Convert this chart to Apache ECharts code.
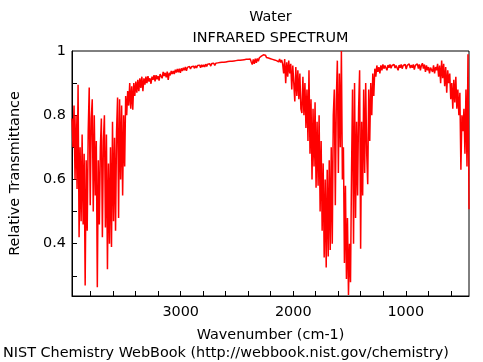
<!DOCTYPE html>
<html><head><meta charset="utf-8">
<script src="https://cdn.jsdelivr.net/npm/echarts@6/dist/echarts.min.js"></script>
<style>html,body{margin:0;padding:0;background:#fff}#c{width:483px;height:362px}</style>
</head><body><div id="c"></div>
<script>
const titleText = 'Water';
const subtitleText = 'INFRARED SPECTRUM';
const xAxisName = 'Wavenumber (cm-1)';
const yAxisName = 'Relative Transmittance';
const footerText = 'NIST Chemistry WebBook (http://webbook.nist.gov/chemistry)';

const wavenumbers = [
3966,3957,3948,3939,3930,3921,3912,3903,3894,3885,
3876,3867,3858,3849,3840,3831,3822,3813,3804,3795,
3786,3777,3768,3759,3750,3741,3732,3723,3714,3705,
3696,3687,3678,3669,3660,3651,3642,3633,3624,3615,
3606,3597,3588,3579,3570,3561,3552,3543,3534,3525,
3516,3507,3498,3489,3480,3471,3462,3453,3444,3435,
3426,3417,3408,3399,3390,3381,3372,3363,3354,3345,
3336,3327,3318,3309,3300,3291,3282,3273,3264,3255,
3246,3237,3228,3219,3210,3201,3192,3183,3174,3165,
3156,3147,3138,3129,3120,3111,3102,3093,3084,3075,
3066,3057,3048,3039,3030,3021,3012,3003,2994,2985,
2976,2967,2958,2949,2940,2931,2922,2913,2904,2895,
2886,2877,2868,2859,2850,2841,2832,2823,2814,2805,
2796,2787,2778,2769,2760,2751,2742,2733,2724,2715,
2706,2697,2688,2679,2670,2661,2652,2643,2634,2625,
2616,2607,2598,2589,2580,2571,2562,2553,2544,2535,
2526,2517,2508,2499,2490,2481,2472,2463,2454,2445,
2436,2427,2418,2409,2400,2391,2382,2373,2364,2355,
2346,2337,2328,2319,2310,2301,2292,2283,2274,2265,
2256,2247,2238,2229,2220,2211,2202,2193,2184,2175,
2166,2157,2148,2139,2130,2121,2112,2103,2094,2085,
2076,2067,2058,2049,2040,2031,2022,2013,2004,1995,
1986,1977,1968,1959,1950,1941,1932,1923,1914,1905,
1896,1887,1878,1869,1860,1851,1842,1833,1824,1815,
1806,1797,1788,1779,1770,1761,1752,1743,1734,1725,
1716,1707,1698,1689,1680,1671,1662,1653,1644,1635,
1626,1617,1608,1599,1590,1581,1572,1563,1554,1545,
1536,1527,1518,1509,1500,1491,1482,1473,1464,1455,
1446,1437,1428,1419,1410,1401,1392,1383,1374,1365,
1356,1347,1338,1329,1320,1311,1302,1293,1284,1275,
1266,1257,1248,1239,1230,1221,1212,1203,1194,1185,
1176,1167,1158,1149,1140,1131,1122,1113,1104,1095,
1086,1077,1068,1059,1050,1041,1032,1023,1014,1005,
996,987,978,969,960,951,942,933,924,915,
906,897,888,879,870,861,852,843,834,825,
816,807,798,789,780,771,762,753,744,735,
726,717,708,699,690,681,672,663,654,645,
636,627,618,609,600,591,582,573,564,555,
546,537,528,519,510,501,492,483,474,465,
456,447,438
];

const transmittance = [
0.79,0.70,0.83,0.60,0.80,0.57,0.895,0.42,0.70,0.47,
0.74,0.46,0.68,0.27,0.66,0.44,0.75,0.886,0.52,0.79,
0.85,0.50,0.80,0.55,0.72,0.264,0.66,0.46,0.70,0.79,
0.42,0.72,0.80,0.45,0.74,0.32,0.65,0.40,0.70,0.39,
0.78,0.47,0.73,0.44,0.75,0.855,0.48,0.85,0.60,0.83,
0.55,0.80,0.64,0.86,0.80,0.875,0.83,0.90,0.82,0.89,
0.817,0.90,0.86,0.905,0.87,0.91,0.875,0.915,0.885,0.92,
0.875,0.915,0.895,0.92,0.90,0.922,0.905,0.915,0.898,0.92,
0.91,0.925,0.905,0.925,0.912,0.922,0.908,0.928,0.93,0.915,
0.935,0.922,0.932,0.918,0.936,0.91,0.932,0.924,0.938,0.928,
0.938,0.928,0.942,0.933,0.944,0.934,0.945,0.932,0.946,0.938,
0.948,0.94,0.95,0.938,0.949,0.943,0.952,0.944,0.951,0.945,
0.953,0.946,0.954,0.947,0.955,0.949,0.956,0.948,0.957,0.95,
0.957,0.95,0.959,0.952,0.959,0.953,0.96,0.953,0.961,0.955,
0.962,0.955,0.962,0.956,0.963,0.957,0.964,0.958,0.965,0.959,
0.965,0.959,0.966,0.96,0.967,0.961,0.968,0.962,0.968,0.963,
0.969,0.963,0.97,0.964,0.971,0.965,0.971,0.966,0.972,0.966,
0.973,0.967,0.974,0.968,0.974,0.969,0.975,0.966,0.958,0.974,
0.96,0.976,0.963,0.977,0.968,0.979,0.98,0.984,0.987,0.988,
0.984,0.987,0.98,0.984,0.978,0.982,0.976,0.98,0.974,0.978,
0.972,0.977,0.97,0.976,0.966,0.975,0.964,0.972,0.96,0.93,
0.975,0.90,0.965,0.92,0.97,0.93,0.96,0.88,0.955,0.90,
0.843,0.95,0.86,0.94,0.85,0.93,0.82,0.807,0.92,0.80,
0.90,0.76,0.88,0.72,0.94,0.68,0.85,0.60,0.82,0.64,
0.84,0.574,0.78,0.58,0.80,0.50,0.72,0.44,0.65,0.357,
0.60,0.326,0.63,0.36,0.66,0.38,0.70,0.40,0.80,0.88,
0.52,0.85,0.97,0.62,0.93,0.70,1.0,0.60,0.70,0.34,
0.58,0.29,0.48,0.24,0.40,0.28,0.62,0.88,0.40,0.90,
0.48,0.78,0.55,0.82,0.94,0.384,0.78,0.55,0.88,0.62,
0.90,0.68,0.585,0.88,0.72,0.90,0.80,0.93,0.86,0.945,
0.92,0.955,0.935,0.95,0.93,0.955,0.94,0.958,0.945,0.955,
0.95,0.94,0.956,0.948,0.958,0.946,0.955,0.95,0.958,0.947,
0.955,0.95,0.94,0.956,0.948,0.958,0.945,0.955,0.95,0.958,
0.944,0.955,0.95,0.96,0.947,0.956,0.948,0.958,0.942,0.955,
0.95,0.96,0.945,0.958,0.94,0.955,0.962,0.945,0.958,0.935,
0.955,0.94,0.95,0.93,0.948,0.95,0.935,0.955,0.93,0.95,
0.94,0.96,0.92,0.955,0.90,0.97,0.915,0.96,0.89,0.95,
0.87,0.94,0.90,0.93,0.85,0.90,0.82,0.91,0.84,0.92,
0.82,0.88,0.80,0.87,0.63,0.80,0.75,0.82,0.68,0.88,
0.64,0.99,0.507
];

const xTickValues = [600,800,1000,1200,1400,1600,1800,2000,2200,2400,2600,2800,3000,3200,3400,3600,3800];
const xLabelValues = [1000,2000,3000];
const yTickValues = [0.3,0.4,0.5,0.6,0.7,0.8,0.9];
const yLabelValues = [0.4,0.6,0.8,1];
const xRange = [438, 3966];
const yRange = [0.237, 1];

const font = 'DejaVu Sans';
const fs = 14.4;
const chart = echarts.init(document.getElementById('c'), null, {renderer: 'canvas'});
chart.setOption({
  animation: false,
  backgroundColor: '#fff',
  grid: {left: 72, right: 14, top: 51, bottom: 66, show: true, borderColor: '#000', borderWidth: 1, backgroundColor: 'transparent'},
  xAxis: {
    type: 'value', inverse: true, min: xRange[0], max: xRange[1],
    name: xAxisName, nameLocation: 'middle', nameGap: 32,
    nameTextStyle: {fontFamily: font, fontSize: fs, color: '#000'},
    axisLine: {show: true, onZero: false, lineStyle: {color: '#000', width: 1}},
    axisTick: {show: true, inside: true, length: 5, customValues: xTickValues, lineStyle: {color: '#000', width: 1}},
    axisLabel: {show: true, customValues: xLabelValues, fontFamily: font, fontSize: fs, color: '#000', margin: 9, formatter: v => String(v)},
    splitLine: {show: false}
  },
  yAxis: {
    type: 'value', min: yRange[0], max: yRange[1],
    name: yAxisName, nameLocation: 'middle', nameGap: 50, nameRotate: 90,
    nameTextStyle: {fontFamily: font, fontSize: fs, color: '#000'},
    axisLine: {show: true, onZero: false, lineStyle: {color: '#000', width: 1}},
    axisTick: {show: true, inside: true, length: 5, customValues: yTickValues, lineStyle: {color: '#000', width: 1}},
    axisLabel: {show: true, customValues: yLabelValues, fontFamily: font, fontSize: fs, color: '#000', margin: 6, formatter: v => String(v)},
    splitLine: {show: false}
  },
  series: [{
    type: 'line', data: wavenumbers.map((w, i) => [w, transmittance[i]]),
    showSymbol: false, symbol: 'none', clip: true, silent: true,
    lineStyle: {color: '#ff0000', width: 1.5}
  }],
  graphic: [
    {type: 'text', x: 270.5, y: 17, style: {text: titleText, align: 'center', verticalAlign: 'middle', fontFamily: font, fontSize: fs, fill: '#000'}},
    {type: 'text', x: 270.5, y: 38.5, style: {text: subtitleText, align: 'center', verticalAlign: 'middle', fontFamily: font, fontSize: fs, fill: '#000'}},
    {type: 'text', x: 3, y: 353, style: {text: footerText, align: 'left', verticalAlign: 'middle', fontFamily: font, fontSize: fs, fill: '#000'}}
  ]
});
</script>
</body></html>
